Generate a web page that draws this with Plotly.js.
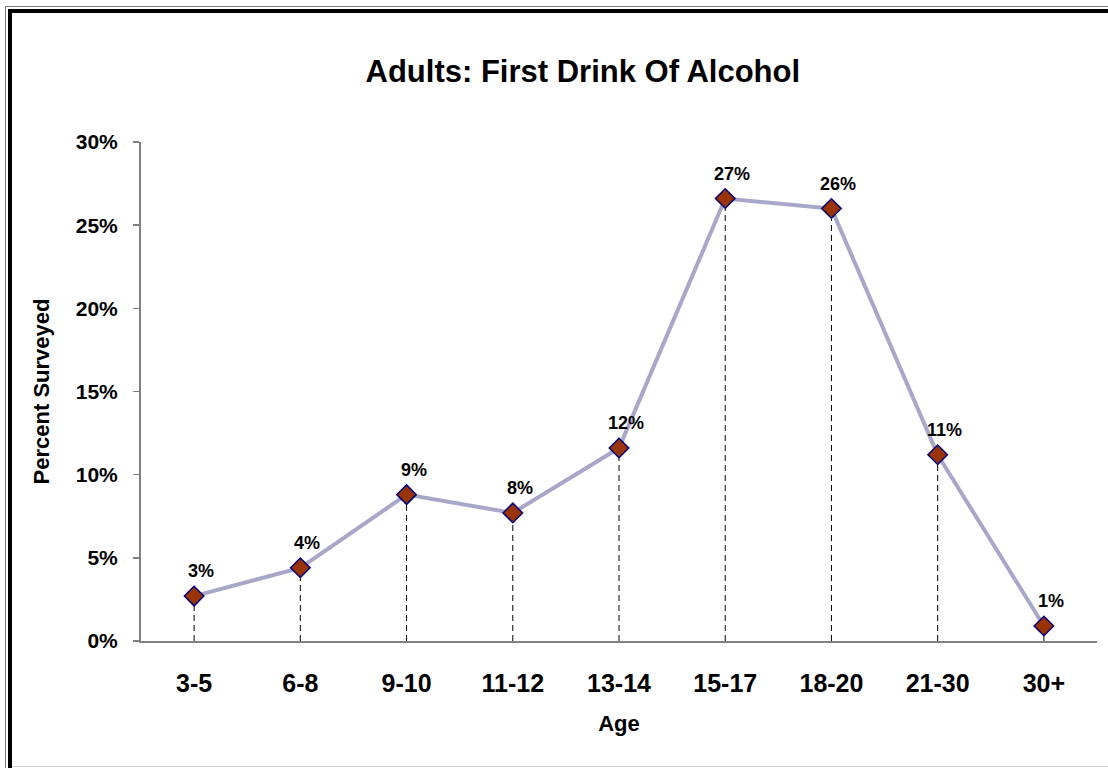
<!DOCTYPE html>
<html>
<head>
<meta charset="utf-8">
<script src="https://cdn.plot.ly/plotly-3.0.1.min.js"></script>
<style>
  html, body { margin: 0; padding: 0; background: #ffffff; overflow: hidden; }
  #wrap { position: relative; width: 1108px; height: 768px; overflow: hidden; }
  #chart { position: absolute; left: 0; top: 0; width: 1108px; height: 768px; }
  .frame { position: absolute; pointer-events: none; }
</style>
</head>
<body>
<div id="wrap">
  <div id="chart"></div>
  <div class="frame" style="left:5px;top:6px;width:1103px;height:1px;background:#7f7f7f;"></div>
  <div class="frame" style="left:5px;top:6px;width:1px;height:762px;background:#7f7f7f;"></div>
  <div class="frame" style="left:8px;top:9px;width:1100px;height:4px;background:#000;"></div>
  <div class="frame" style="left:8px;top:9px;width:4px;height:759px;background:#000;"></div>
  <div class="frame" style="left:12px;top:766px;width:1096px;height:1px;background:#d4d4d4;"></div>
</div>
<script>
const ages = ['3-5', '6-8', '9-10', '11-12', '13-14', '15-17', '18-20', '21-30', '30+'];
const percentSurveyed = [0.027, 0.044, 0.088, 0.077, 0.116, 0.266, 0.260, 0.112, 0.009];
const yTickValues = [0, 0.05, 0.10, 0.15, 0.20, 0.25, 0.30];

const FONT = 'Arial, "Liberation Sans", sans-serif';

const dropX = [], dropY = [];
ages.forEach((a, i) => { dropX.push(a, a, null); dropY.push(0, percentSurveyed[i], null); });

const traces = [
  {
    type: 'scatter', mode: 'lines', x: dropX, y: dropY,
    line: { color: '#000000', width: 1, dash: '6px,4px' },
    hoverinfo: 'skip', showlegend: false, connectgaps: false
  },
  {
    type: 'scatter', mode: 'lines+markers', x: ages, y: percentSurveyed,
    line: { color: '#a9a7c9', width: 4 },
    marker: { symbol: 'diamond', size: 15, color: '#993300', line: { color: '#000080', width: 1.5 } },
    showlegend: false
  }
];

const annotations = ages.map((a, i) => ({
  x: a, y: percentSurveyed[i], xref: 'x', yref: 'y',
  text: Math.round(percentSurveyed[i] * 100) + '%',
  showarrow: false, xshift: 7, yshift: 25, yanchor: 'middle', xanchor: 'center',
  font: { family: FONT, size: 18, color: '#000', weight: 'bold' }
}));

const layout = {
  width: 1108, height: 768,
  margin: { l: 141, r: 11, t: 142, b: 127, pad: 0 },
  paper_bgcolor: '#ffffff', plot_bgcolor: '#ffffff',
  title: {
    text: 'Adults: First Drink Of Alcohol',
    font: { family: FONT, size: 31, color: '#000', weight: 'bold' },
    x: 0.526, xref: 'container', xanchor: 'center',
    y: 0.9076, yref: 'container', yanchor: 'middle'
  },
  xaxis: {
    type: 'category', range: [-0.5, 8.5],
    showline: true, linecolor: '#808080', linewidth: 2,
    ticks: '', showgrid: false, zeroline: false,
    tickfont: { family: FONT, size: 25, color: '#000', weight: 'bold' },
    ticklabelstandoff: 19,
    title: { text: 'Age', standoff: 20, font: { family: FONT, size: 22, color: '#000', weight: 'bold' } }
  },
  yaxis: {
    range: [0, 0.30], tickvals: yTickValues, tickformat: '.0%',
    showline: true, linecolor: '#808080', linewidth: 2,
    ticks: 'outside', ticklen: 6, tickwidth: 1.5, tickcolor: '#808080',
    showgrid: false, zeroline: false,
    tickfont: { family: FONT, size: 21, color: '#000', weight: 'bold' },
    ticklabelstandoff: 11,
    title: { text: 'Percent Surveyed', standoff: 20, font: { family: FONT, size: 22, color: '#000', weight: 'bold' } }
  },
  annotations: annotations,
  showlegend: false
};

Plotly.newPlot('chart', traces, layout, { displayModeBar: false, staticPlot: true });
</script>
</body>
</html>
